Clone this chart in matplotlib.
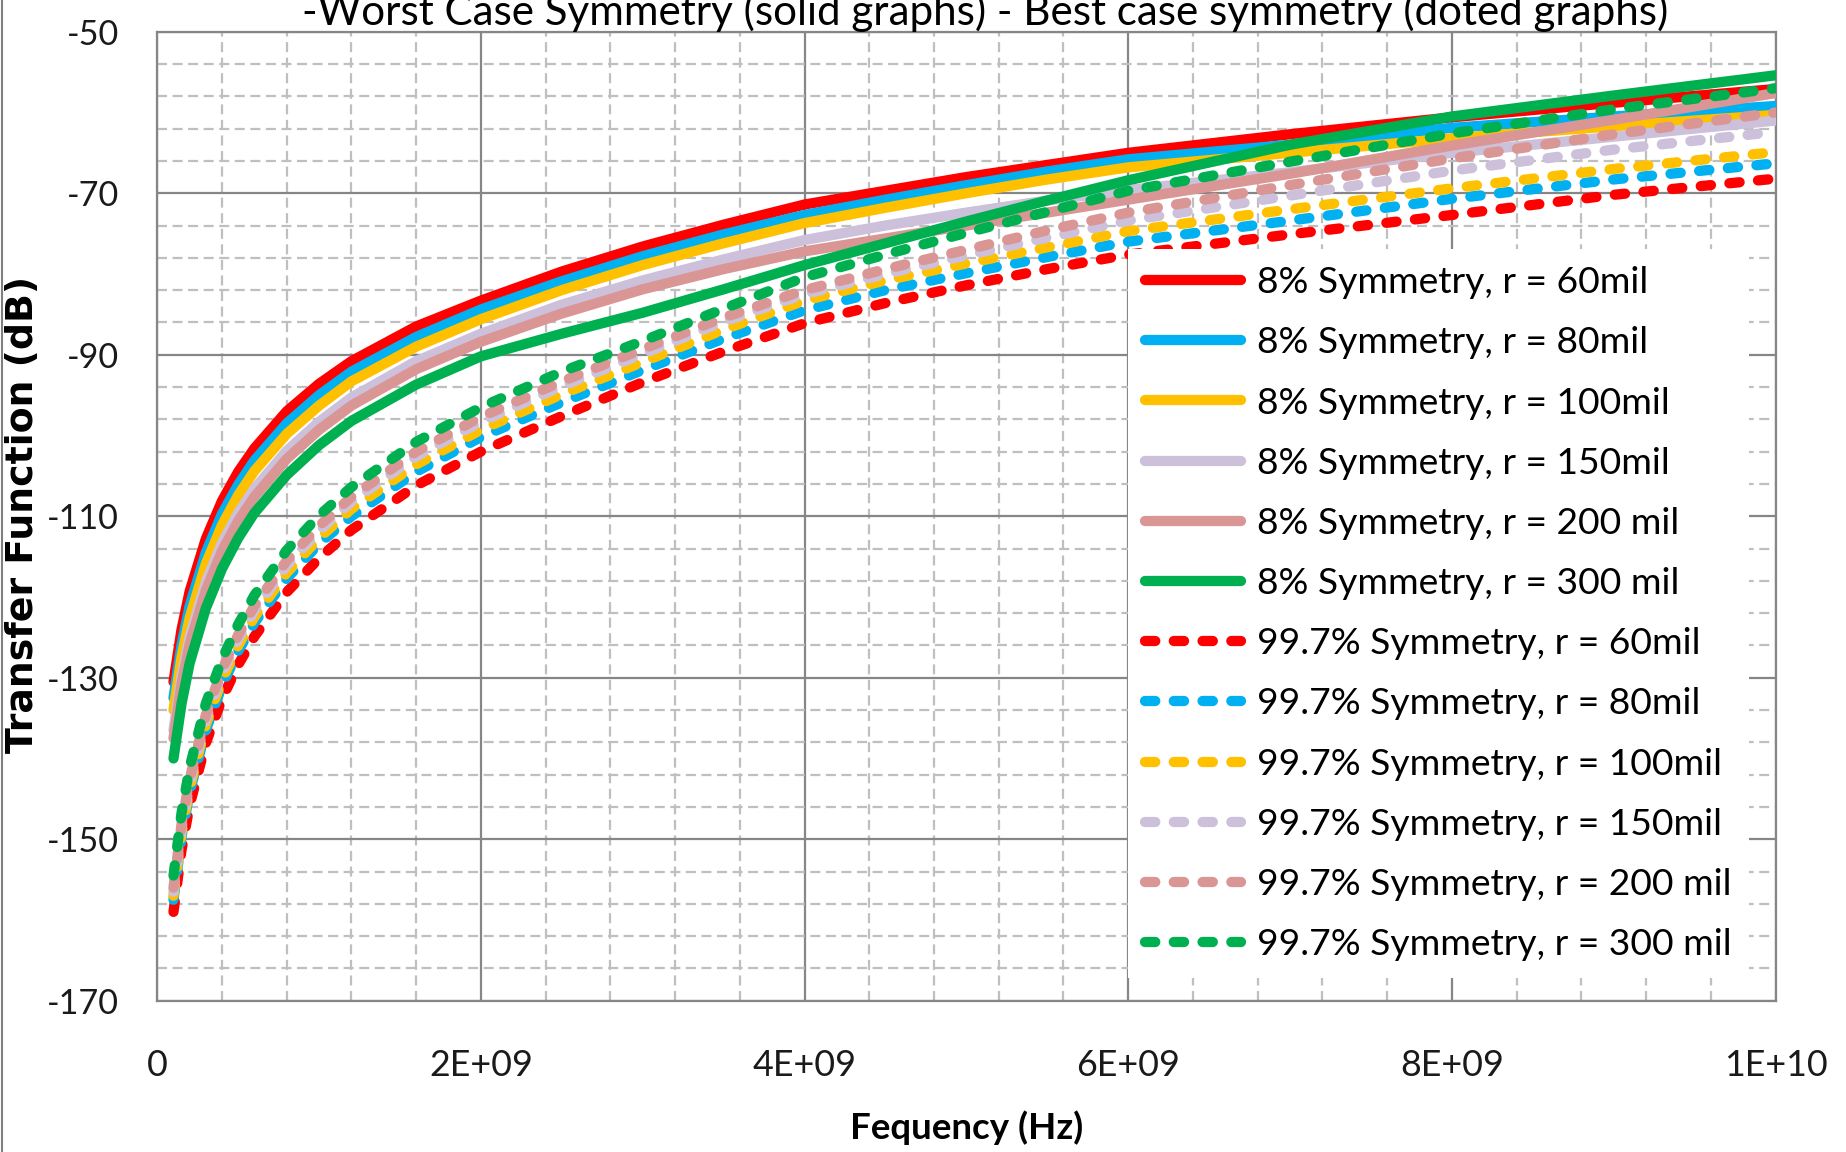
import matplotlib
matplotlib.use("Agg")
import matplotlib.pyplot as plt
from matplotlib.ticker import FixedLocator, FixedFormatter
from matplotlib.lines import Line2D

plt.rcParams["axes.unicode_minus"] = False

# Frequency sample points (GHz)
freq_ghz = [0.1, 0.15, 0.2, 0.3, 0.4, 0.5, 0.6, 0.8, 1.0, 1.2, 1.6, 2.0, 2.5, 3.0,
            3.5, 4.0, 4.5, 5.0, 5.5, 6.0, 7.0, 8.0, 9.0, 10.0]

# 8% symmetry (solid)
s8_60 = [-130.5, -124.0, -119.3, -112.8, -108.1, -104.5, -101.6, -97.0, -93.6, -90.8, -86.5, -83.3,
         -79.7, -76.6, -73.9, -71.4, -69.7, -68.0, -66.5, -65.0, -62.7, -60.6, -58.8, -57.1]
s8_80 = [-132.5, -125.9, -121.1, -114.5, -109.7, -106.1, -103.1, -98.5, -95.0, -92.1, -87.8, -84.4,
         -80.9, -77.8, -75.1, -72.7, -70.8, -69.0, -67.3, -65.8, -64.0, -61.9, -60.5, -59.2]
s8_100 = [-134.0, -127.4, -122.6, -115.9, -111.1, -107.4, -104.4, -99.8, -96.3, -93.3, -89.0, -85.6,
          -82.0, -78.9, -76.2, -73.7, -71.8, -70.0, -68.3, -66.8, -65.0, -63.2, -61.7, -60.3]
s8_150 = [-136.5, -129.8, -124.9, -118.2, -113.3, -109.6, -106.6, -101.9, -98.3, -95.3, -90.8, -87.4,
          -83.8, -80.8, -78.2, -75.8, -74.0, -72.4, -70.9, -69.6, -67.4, -65.0, -63.0, -61.0]
s8_200 = [-137.5, -130.8, -125.9, -119.2, -114.3, -110.6, -107.6, -102.9, -99.3, -96.3, -91.8, -88.4,
          -84.9, -81.9, -79.4, -77.2, -75.6, -74.0, -72.4, -70.8, -67.6, -64.1, -60.9, -57.6]
s8_300 = [-140.0, -133.2, -128.2, -121.4, -116.5, -112.7, -109.6, -104.9, -101.2, -98.2, -93.7, -90.2,
          -87.4, -84.8, -81.9, -78.9, -76.2, -73.5, -70.9, -68.4, -64.0, -60.5, -57.9, -55.4]

# 99.7% symmetry (dashed)
s997_60 = [-159.0, -151.3, -145.8, -138.1, -132.6, -128.4, -124.9, -119.4, -115.2, -111.7, -106.2, -102.0,
           -97.6, -93.4, -89.6, -86.1, -83.6, -81.4, -79.4, -77.6, -75.1, -72.7, -70.2, -68.2]
s997_80 = [-157.5, -149.7, -144.2, -136.5, -131.0, -126.7, -123.2, -117.7, -113.4, -110.0, -104.5, -100.2,
           -95.9, -91.9, -88.0, -84.5, -82.0, -79.9, -77.9, -76.0, -73.4, -70.7, -68.3, -66.3]
s997_100 = [-157.0, -149.2, -143.7, -135.8, -130.3, -126.0, -122.5, -117.0, -112.7, -109.1, -103.6, -99.3,
            -94.9, -90.9, -86.9, -83.3, -80.8, -78.7, -76.7, -74.7, -72.0, -69.4, -67.0, -64.9]
s997_150 = [-156.5, -148.6, -143.0, -135.1, -129.5, -125.2, -121.7, -116.1, -111.8, -108.2, -102.6, -98.3,
            -93.9, -89.9, -85.9, -82.5, -80.0, -77.7, -75.5, -73.4, -70.3, -67.2, -64.6, -62.4]
s997_200 = [-156.0, -148.1, -142.5, -134.6, -129.0, -124.7, -121.1, -115.5, -111.2, -107.6, -102.0, -97.7,
            -93.3, -89.3, -85.4, -82.0, -79.4, -77.0, -74.6, -72.4, -69.0, -65.7, -62.7, -60.0]
s997_300 = [-154.5, -146.7, -141.1, -133.2, -127.7, -123.4, -119.8, -114.2, -109.9, -106.4, -100.8, -96.5,
            -92.1, -88.3, -84.3, -80.4, -77.6, -74.9, -72.3, -69.7, -66.1, -62.6, -59.6, -57.0]

labels = [
    "8% Symmetry, r = 60mil", "8% Symmetry, r = 80mil", "8% Symmetry, r = 100mil",
    "8% Symmetry, r = 150mil", "8% Symmetry, r = 200 mil", "8% Symmetry, r = 300 mil",
    "99.7% Symmetry, r = 60mil", "99.7% Symmetry, r = 80mil", "99.7% Symmetry, r = 100mil",
    "99.7% Symmetry, r = 150mil", "99.7% Symmetry, r = 200 mil", "99.7% Symmetry, r = 300 mil",
]
series = [s8_60, s8_80, s8_100, s8_150, s8_200, s8_300,
          s997_60, s997_80, s997_100, s997_150, s997_200, s997_300]
colors = ["#FF0000", "#00B0F0", "#FFC000", "#CCC0DA", "#D99694", "#00B050"] * 2

xtick_vals = [0, 2e9, 4e9, 6e9, 8e9, 1e10]
xtick_labels = ["0", "2E+09", "4E+09", "6E+09", "8E+09", "1E+10"]
ytick_vals = [-170, -150, -130, -110, -90, -70, -50]
ytick_labels = ["-170", "-150", "-130", "-110", "-90", "-70", "-50"]

title = "-Worst Case Symmetry (solid graphs) - Best case symmetry (doted graphs)"

FONT = ["Lato", "Liberation Sans", "DejaVu Sans"]
plt.rcParams["font.family"] = FONT

W, H = 1846, 1152
DPI = 100
PX = 72.0 / DPI  # points per pixel
fig = plt.figure(figsize=(W / DPI, H / DPI), dpi=DPI)
L, R, T, B = 157.3, 1775.5, 31.7, 1000.7
ax = fig.add_axes([L / W, 1 - B / H, (R - L) / W, (B - T) / H])
renderer = fig.canvas.get_renderer()


def fit_width(txt, target_px, use_height=False):
    ext = txt.get_window_extent(renderer)
    cur = ext.height if use_height else ext.width
    txt.set_fontsize(txt.get_fontsize() * target_px / cur)


freqs = [f * 1e9 for f in freq_ghz]
lw = 7.4
handles = []
for i, (vals, lab, col) in enumerate(zip(series, labels, colors)):
    if i < 6:
        ln, = ax.plot(freqs, vals, color=col, lw=lw, solid_capstyle="round",
                      solid_joinstyle="round", label=lab, zorder=3)
    else:
        ln, = ax.plot(freqs, vals, color=col, lw=lw, dash_capstyle="round",
                      dash_joinstyle="round", label=lab, zorder=3)
        ln.set_dashes((1.0, 1.8))
    handles.append(ln)

ax.set_xlim(0, 1e10)
ax.set_ylim(-170, -50)
ax.xaxis.set_major_locator(FixedLocator(xtick_vals))
ax.xaxis.set_major_formatter(FixedFormatter(xtick_labels))
ax.xaxis.set_minor_locator(FixedLocator([i * 0.4e9 for i in range(26)]))
ax.yaxis.set_major_locator(FixedLocator(ytick_vals))
ax.yaxis.set_major_formatter(FixedFormatter(ytick_labels))
ax.yaxis.set_minor_locator(FixedLocator(list(range(-170, -49, 4))))

ax.grid(which="major", color="#868686", lw=1.6, ls="-", zorder=0)
ax.grid(which="minor", color="#BFBFBF", lw=1.6, ls=(0, (4.5, 2.5)), zorder=0)
ax.set_axisbelow(True)
for sp in ax.spines.values():
    sp.set_color("#868686")
    sp.set_linewidth(1.6)
ax.tick_params(which="both", length=0, labelcolor="#1a1a1a")

# --- tick label sizes fitted to the reference widths ---
fig.canvas.draw()
probe = fig.text(0, 0, "-170", fontsize=30)
fit_width(probe, 72)
ysize = probe.get_fontsize()
probe.set_text("2E+09")
probe.set_fontsize(30)
fit_width(probe, 104)
xsize = probe.get_fontsize()
h_x = probe.get_window_extent(renderer).height
probe.remove()
ax.tick_params(axis="y", labelsize=ysize, pad=(L - 119) * PX)
ax.tick_params(axis="x", labelsize=xsize, pad=(1066 - h_x / 2 - B) * PX)

# --- axis labels ---
xl = ax.set_xlabel("Fequency (Hz)", fontsize=30, fontweight="bold")
fit_width(xl, 233)
xl.set_va("center")
ax.xaxis.set_label_coords(0.5, -(1128 - B) / (B - T))

yl = ax.set_ylabel("Transfer Function (dB)", fontsize=28, fontweight="bold",
                   family=["DejaVu Sans"])
fit_width(yl, 478, use_height=True)
yl.set_va("center")
ax.yaxis.set_label_coords((23 - L) / (R - L), 1 - (514 - T) / (B - T))

# --- title (partly cut at the top edge, as in the reference) ---
tt = fig.text(985 / W, 1 - 25 / H, title, ha="center", va="baseline", fontsize=34)
fit_width(tt, 1369)

# --- legend ---
probe = fig.text(0, 0, labels[0], fontsize=30)
fit_width(probe, 391)
lsize = probe.get_fontsize()
h_l = probe.get_window_extent(renderer).height
probe.remove()
spx = lsize / PX  # font size in pixels
pitch = 60.2
labelspacing = max(0.0, (pitch - h_l) / spx)
borderpad = 17 / spx
first_center = 282.6
top = first_center - h_l / 2 - borderpad * spx
leg = ax.legend(handles=handles, loc="upper left",
                bbox_to_anchor=(1128 / W, 1 - top / H), bbox_transform=fig.transFigure,
                prop={"size": lsize}, frameon=True, fancybox=False,
                borderpad=borderpad, borderaxespad=0, handlelength=96 / spx,
                handletextpad=16 / spx, labelspacing=labelspacing, framealpha=1)
leg.get_frame().set_facecolor("white")
leg.get_frame().set_edgecolor("none")
leg.set_zorder(5)

# thin frame line along the left edge of the picture, as in the reference
fig.add_artist(Line2D([1.5 / W, 1.5 / W], [0, 1], transform=fig.transFigure,
                      color="#7f7f7f", lw=1.5))

fig.savefig("out.png", dpi=DPI)
